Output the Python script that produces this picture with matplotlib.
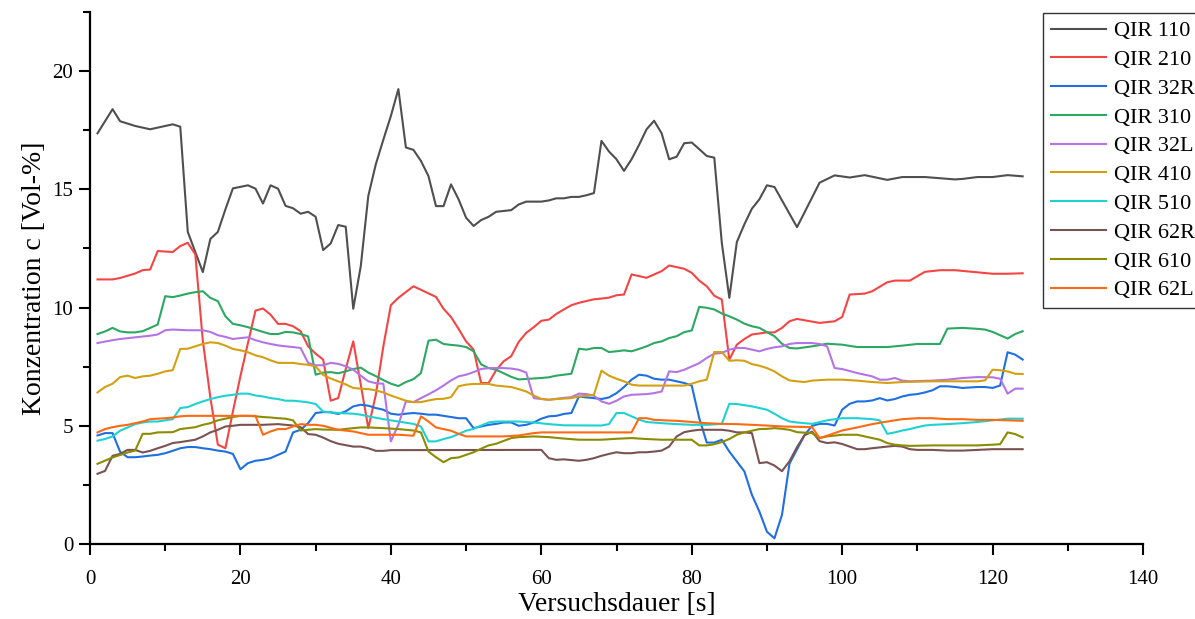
import matplotlib
matplotlib.use("Agg")
import matplotlib.pyplot as plt
from matplotlib.ticker import MultipleLocator

plt.rcParams["font.family"] = ["Liberation Serif", "DejaVu Serif"]

# Measured concentrations [Vol-%] over test duration [s] for each sensor
t_110 = [1, 3, 4, 6, 8, 10, 11, 12, 13, 15, 16, 17, 18, 19, 21, 22, 23, 24, 25, 26,
         27, 28, 29, 30, 31, 32, 33, 34, 35, 36, 37, 38, 39, 40, 41, 42, 43, 44, 45, 46,
         47, 48, 49, 50, 51, 52, 53, 54, 56, 57, 58, 60, 61, 62, 63, 64, 65, 66, 67, 68,
         69, 70, 71, 72, 73, 74, 75, 76, 77, 78, 79, 80, 81, 82, 83, 84, 85, 86, 87, 88,
         89, 90, 91, 94, 97, 99, 101, 103, 106, 108, 111, 113, 115, 116, 118, 120, 122, 124]
c_110 = [17.37, 18.39, 17.88, 17.68, 17.54, 17.68, 17.75, 17.65, 13.2, 11.5, 12.9, 13.2, 14.15, 15.04, 15.17, 15.03, 14.4, 15.17, 15.03, 14.3,
         14.2, 13.97, 14.05, 13.84, 12.43, 12.71, 13.49, 13.42, 9.95, 11.75, 14.72, 16.06, 17.1, 18.1, 19.24, 16.77, 16.67, 16.2, 15.56, 14.29,
         14.29, 15.21, 14.58, 13.8, 13.45, 13.7, 13.84, 14.05, 14.12, 14.36, 14.48, 14.48, 14.53, 14.62, 14.62, 14.68, 14.68, 14.75, 14.84, 17.05,
         16.6, 16.27, 15.78, 16.27, 16.88, 17.54, 17.9, 17.37, 16.27, 16.38, 16.95, 16.98, 16.7, 16.41, 16.34, 12.74, 10.41, 12.77, 13.52, 14.18,
         14.58, 15.17, 15.1, 13.4, 15.28, 15.59, 15.5, 15.6, 15.4, 15.52, 15.52, 15.47, 15.42, 15.44, 15.52, 15.52, 15.6, 15.55]

t_210 = [1, 3, 4, 6, 7, 8, 9, 11, 12, 13, 14, 15, 16, 17, 18, 19, 20, 21, 22, 23,
         24, 25, 26, 27, 28, 29, 30, 31, 32, 33, 34, 35, 36, 37, 38, 39, 40, 41, 43, 44,
         45, 46, 47, 48, 49, 50, 51, 52, 53, 54, 55, 56, 57, 58, 59, 60, 61, 62, 63, 64,
         65, 67, 68, 69, 70, 71, 72, 73, 74, 75, 76, 77, 78, 79, 80, 81, 82, 83, 84, 85,
         86, 87, 88, 90, 91, 92, 93, 94, 97, 99, 100, 101, 103, 104, 106, 107, 109, 111, 113, 115,
         120, 122, 124]
c_210 = [11.19, 11.19, 11.25, 11.44, 11.58, 11.61, 12.39, 12.35, 12.6, 12.74, 12.25, 8.6, 6.2, 4.2, 4.05, 5.6, 7.1, 8.5, 9.87, 9.96,
         9.7, 9.31, 9.31, 9.21, 9.0, 8.36, 8.05, 7.8, 6.06, 6.17, 7.4, 8.57, 6.74, 4.9, 6.31, 8.36, 10.1, 10.41, 10.9, 10.75,
         10.6, 10.45, 9.95, 9.6, 9.1, 8.57, 8.22, 6.81, 6.81, 7.35, 7.73, 7.94, 8.55, 8.93, 9.17, 9.44, 9.49, 9.73, 9.92, 10.1,
         10.2, 10.35, 10.38, 10.42, 10.52, 10.55, 11.4, 11.33, 11.26, 11.4, 11.54, 11.78, 11.71, 11.64, 11.47, 11.14, 10.9, 10.5, 10.34, 7.8,
         8.43, 8.67, 8.86, 8.95, 8.95, 9.14, 9.42, 9.52, 9.35, 9.42, 9.6, 10.55, 10.59, 10.69, 11.07, 11.14, 11.14, 11.51, 11.58, 11.58,
         11.43, 11.43, 11.45]

t_32r = list(range(1, 117)) + [118, 119, 120, 121, 122, 123, 124]
c_32r = [4.59, 4.69, 4.69, 3.9, 3.67, 3.67, 3.7, 3.74, 3.77, 3.84, 3.94, 4.05, 4.1, 4.1, 4.05, 4.01, 3.95, 3.91, 3.81, 3.16,
         3.42, 3.52, 3.56, 3.63, 3.77, 3.91, 4.72, 4.83, 5.11, 5.54, 5.58, 5.57, 5.5, 5.61, 5.82, 5.89, 5.85, 5.75, 5.68, 5.51,
         5.47, 5.51, 5.54, 5.51, 5.47, 5.47, 5.42, 5.37, 5.32, 5.32, 4.9, 4.97, 5.04, 5.08, 5.14, 5.14, 5.0, 5.04, 5.14, 5.3,
         5.4, 5.42, 5.5, 5.54, 6.24, 6.2, 6.17, 6.13, 6.2, 6.38, 6.64, 6.95, 7.16, 7.12, 6.99, 6.95, 6.95, 6.88, 6.81, 6.7,
         5.32, 4.29, 4.29, 4.41, 3.91, 3.49, 3.07, 2.08, 1.37, 0.52, 0.24, 1.23, 3.4, 4.0, 4.6, 5.0, 5.08, 5.08, 5.01, 5.68,
         5.93, 6.03, 6.03, 6.07, 6.17, 6.07, 6.13, 6.24, 6.31, 6.34, 6.41, 6.5, 6.67, 6.67, 6.64, 6.6,
         6.64, 6.64, 6.6, 6.7, 8.11, 8.01, 7.8]

t_310 = list(range(1, 59)) + list(range(60, 95)) + [96, 98, 100, 102, 106, 108, 110, 113, 114, 116, 118, 119, 120, 121, 122, 123, 124]
c_310 = [8.88, 8.99, 9.14, 8.99, 8.95, 8.95, 9.0, 9.14, 9.28, 10.48, 10.44, 10.51, 10.59, 10.65, 10.69, 10.41, 10.27, 9.63, 9.31, 9.25,
         9.17, 9.07, 8.97, 8.88, 8.88, 8.97, 8.95, 8.88, 8.78, 7.16, 7.25, 7.27, 7.22, 7.3, 7.4, 7.46, 7.25, 7.1, 6.93, 6.78,
         6.68, 6.85, 6.97, 7.23, 8.6, 8.64, 8.46, 8.42, 8.39, 8.33, 8.15, 7.6, 7.44, 7.37, 7.22, 7.07, 6.96, 6.98,
         7.02, 7.05, 7.12, 7.16, 7.2, 8.26, 8.22, 8.29, 8.29, 8.12, 8.15, 8.19, 8.15, 8.25, 8.36, 8.5, 8.57, 8.71, 8.79, 8.96,
         9.03, 10.03, 9.99, 9.92, 9.75, 9.63, 9.49, 9.32, 9.21, 9.14, 8.96, 8.79, 8.47, 8.29, 8.27,
         8.36, 8.47, 8.43, 8.33, 8.33, 8.39, 8.46, 8.46, 9.11, 9.14, 9.1, 9.07, 8.97, 8.83, 8.69, 8.88, 9.0]

t_32l = [1, 3, 4, 6, 8, 9, 10, 11, 13, 15, 16, 17, 18, 19, 20, 21, 22, 23, 24, 25,
         26, 27, 28, 29, 30, 31, 32, 33, 34, 35, 36, 37, 38, 39, 40, 41, 42, 43, 44, 45,
         46, 47, 48, 49, 50, 51, 52, 53, 55, 56, 57, 58, 59, 60, 61, 62, 63, 64, 65, 66,
         67, 68, 69, 70, 71, 72, 74, 75, 76, 77, 78, 79, 80, 81, 82, 83, 84, 85, 86, 87,
         88, 89, 90, 91, 92, 93, 94, 96, 97, 98, 99, 100, 102, 103, 104, 105, 106, 107, 108, 109,
         112, 114, 116, 118, 120, 121, 122, 123, 124]
c_32l = [8.5, 8.62, 8.67, 8.74, 8.81, 8.86, 9.04, 9.07, 9.04, 9.04, 8.97, 8.83, 8.76, 8.67, 8.71, 8.74, 8.62, 8.53, 8.46, 8.4,
         8.36, 8.33, 8.29, 7.66, 7.56, 7.56, 7.66, 7.62, 7.52, 7.37, 7.12, 6.88, 6.8, 6.78, 4.34, 5.04, 6.03, 6.0, 6.17, 6.33,
         6.5, 6.7, 6.92, 7.09, 7.16, 7.27, 7.4, 7.44, 7.44, 7.42, 7.37, 7.25, 6.17, 6.13, 6.1, 6.14, 6.18, 6.21, 6.36, 6.34,
         6.27, 6.03, 5.93, 6.06, 6.24, 6.31, 6.34, 6.38, 6.45, 7.3, 7.27, 7.37, 7.51, 7.65, 7.87, 8.05, 8.08, 8.22, 8.29, 8.29,
         8.22, 8.15, 8.25, 8.32, 8.36, 8.46, 8.5, 8.5, 8.46, 8.36, 7.44, 7.4, 7.23, 7.16, 7.09, 6.95, 6.95, 7.02, 6.91, 6.88,
         6.91, 6.95, 7.02, 7.06, 7.05, 6.99, 6.36, 6.57, 6.57]

t_410 = list(range(1, 52)) + list(range(53, 74)) + list(range(79, 96)) + [96, 98, 100, 102, 104, 106, 108, 112, 118, 119, 120, 121, 122, 123, 124]
c_410 = [6.41, 6.64, 6.78, 7.06, 7.12, 7.02, 7.09, 7.12, 7.2, 7.3, 7.35, 8.25, 8.26, 8.36, 8.46, 8.53, 8.5, 8.39, 8.25, 8.19,
         8.11, 7.98, 7.9, 7.77, 7.66, 7.66, 7.66, 7.61, 7.58, 7.51, 7.15, 7.0, 6.88, 6.75, 6.6, 6.57, 6.55, 6.5, 6.41, 6.28,
         6.17, 6.06, 6.0, 6.0, 6.07, 6.13, 6.14, 6.21, 6.67, 6.74, 6.77,
         6.77, 6.7, 6.67, 6.64, 6.55, 6.45, 6.28, 6.14, 6.1, 6.13, 6.15, 6.17, 6.24, 6.27, 6.31, 7.33, 7.12, 6.99, 6.88, 6.74, 6.7,
         6.7, 6.78, 6.88, 6.95, 8.12, 8.12, 7.75, 7.77, 7.75, 7.61, 7.54, 7.44, 7.3, 7.09, 6.92, 6.88, 6.85,
         6.91, 6.95, 6.95, 6.91, 6.85, 6.81, 6.85, 6.88, 6.88, 6.92, 7.37, 7.35, 7.3, 7.2, 7.19]

t_510 = list(range(1, 32)) + [33, 35, 36, 37, 39, 41, 43, 44, 45, 46, 47, 48, 49, 50, 51, 52, 53, 54, 57, 59,
                              61, 63, 68, 69, 70, 71, 72, 73, 74, 76, 78, 80, 82, 84, 85, 86, 88, 89, 90, 91,
                              92, 93, 94, 96, 98, 100, 102, 104, 105, 106, 107, 108, 109, 110, 111, 112, 114, 116, 118, 120,
                              122, 124]
c_510 = [4.37, 4.44, 4.55, 4.79, 4.93, 5.07, 5.14, 5.18, 5.18, 5.23, 5.28, 5.75, 5.79, 5.92, 6.03, 6.13, 6.21, 6.27, 6.31, 6.36,
         6.36, 6.28, 6.24, 6.17, 6.13, 6.06, 6.06, 6.03, 5.99, 5.92, 5.6,
         5.54, 5.51, 5.47, 5.4, 5.28, 5.18, 5.08, 4.97, 4.34, 4.34, 4.44, 4.52, 4.65, 4.79, 4.87, 5.01, 5.14, 5.18, 5.18, 5.14,
         5.07, 5.02, 5.01, 5.07, 5.54, 5.54, 5.4, 5.26, 5.16, 5.11, 5.07, 5.04, 5.04, 5.08, 5.93, 5.92, 5.82, 5.75, 5.68, 5.51,
         5.32, 5.18, 5.14, 5.08, 5.23, 5.32, 5.32, 5.28, 5.23, 4.66, 4.72, 4.8, 4.86, 4.94, 5.01, 5.04, 5.07, 5.11, 5.16, 5.23,
         5.3, 5.3]

t_62r = list(range(1, 21)) + [23, 25, 26, 27, 28, 29, 30, 31, 32, 33, 34, 35, 36, 37, 38, 39, 40, 60, 61, 62,
                              63, 65, 66, 67, 68, 69, 70, 71, 72, 73, 74, 75, 76, 77, 78, 79, 80, 81, 84, 85,
                              86, 87, 88, 89, 90, 91, 92, 93, 94, 95, 96, 97, 98, 99, 100, 101, 102, 103, 104, 106,
                              107, 108, 109, 110, 112, 114, 116, 118, 120, 124]
c_62r = [2.97, 3.09, 3.73, 3.81, 3.98, 3.98, 3.87, 3.94, 4.05, 4.15, 4.27, 4.31, 4.36, 4.41, 4.55, 4.72, 4.83, 4.97, 5.0, 5.04,
         5.04, 5.07, 5.04, 5.01, 4.94, 4.65, 4.62, 4.5, 4.35, 4.24, 4.18, 4.12, 4.12, 4.05, 3.94, 3.94, 3.97, 3.98, 3.63, 3.56,
         3.58, 3.52, 3.56, 3.63, 3.73, 3.81, 3.88, 3.84, 3.84, 3.88, 3.88, 3.91, 3.95, 4.12, 4.55, 4.73, 4.79, 4.83, 4.83, 4.79,
         4.72, 4.72, 4.69, 3.42, 3.46, 3.32, 3.08, 3.5, 4.1, 4.6, 4.75, 4.35, 4.27, 4.3, 4.23, 4.12, 4.01, 4.01, 4.05, 4.12,
         4.15, 4.12, 4.01, 3.98, 3.98, 3.95, 3.95, 3.98, 4.01, 4.01]

t_610 = [1, 3, 5, 6, 7, 8, 9, 11, 12, 13, 14, 15, 16, 17, 18, 19, 20, 21, 22, 23,
         24, 25, 26, 27, 28, 29, 30, 31, 33, 35, 36, 37, 39, 41, 42, 43, 44, 45, 46, 47,
         48, 49, 50, 51, 52, 53, 54, 55, 56, 57, 59, 61, 63, 65, 68, 70, 72, 74, 76, 80,
         81, 82, 83, 84, 85, 86, 87, 88, 89, 90, 91, 92, 93, 94, 96, 97, 98, 100, 102, 103,
         104, 105, 106, 107, 108, 109, 112, 118, 120, 121, 122, 123, 124]
c_610 = [3.39, 3.66, 3.87, 3.95, 4.66, 4.66, 4.72, 4.73, 4.86, 4.9, 4.94, 5.04, 5.11, 5.23, 5.3, 5.37, 5.42, 5.42, 5.4, 5.37,
         5.35, 5.32, 5.3, 5.23, 4.8, 4.83, 4.86, 4.84, 4.83, 4.9, 4.93, 4.93, 4.9, 4.86, 4.83, 4.8, 4.72, 3.91, 3.67, 3.46,
         3.63, 3.66, 3.77, 3.88, 4.03, 4.17, 4.24, 4.36, 4.48, 4.52, 4.55, 4.52, 4.46, 4.41, 4.41, 4.45, 4.48, 4.44, 4.41, 4.41,
         4.17, 4.17, 4.22, 4.31, 4.44, 4.62, 4.72, 4.79, 4.86, 4.87, 4.9, 4.87, 4.83, 4.73, 4.69, 4.48, 4.55, 4.62, 4.62, 4.55,
         4.48, 4.41, 4.27, 4.2, 4.17, 4.15, 4.17, 4.17, 4.2, 4.22, 4.72, 4.65, 4.51]

t_62l = [1, 2, 3, 4, 5, 6, 7, 8, 9, 10, 11, 12, 13, 22, 23, 24, 25, 26, 27, 28,
         29, 30, 31, 33, 35, 36, 37, 41, 43, 44, 45, 46, 47, 48, 49, 50, 55, 57, 59, 60,
         72, 73, 74, 75, 78, 80, 82, 84, 86, 88, 90, 92, 95, 96, 97, 98, 99, 100, 102, 104,
         106, 108, 110, 112, 114, 116, 118, 120, 122, 124]
c_62l = [4.72, 4.86, 4.94, 5.0, 5.04, 5.11, 5.18, 5.28, 5.3, 5.32, 5.35, 5.4, 5.42, 5.42, 4.62, 4.76, 4.86, 4.86, 4.97, 5.07,
         5.04, 5.04, 5.0, 4.83, 4.76, 4.69, 4.62, 4.62, 4.58, 5.4, 5.18, 4.93, 4.86, 4.79, 4.66, 4.55, 4.55, 4.59, 4.69, 4.72,
         4.72, 5.32, 5.32, 5.25, 5.21, 5.16, 5.11, 5.08, 5.07, 5.04, 5.01, 4.97, 4.95, 4.94, 4.48, 4.58, 4.69, 4.8, 4.93, 5.07,
         5.18, 5.28, 5.32, 5.32, 5.28, 5.28, 5.25, 5.25, 5.23, 5.21]

labels = ["QIR 110", "QIR 210", "QIR 32R", "QIR 310", "QIR 32L",
          "QIR 410", "QIR 510", "QIR 62R", "QIR 610", "QIR 62L"]
times = [t_110, t_210, t_32r, t_310, t_32l, t_410, t_510, t_62r, t_610, t_62l]
values = [c_110, c_210, c_32r, c_310, c_32l, c_410, c_510, c_62r, c_610, c_62l]
colors = ["#4f4f4f", "#f44545", "#1f6fe0", "#2ca862", "#b574e6",
          "#d4a012", "#1ed2d2", "#7b5252", "#8c8c00", "#ff6a12"]

fig = plt.figure(figsize=(11.95, 6.19), dpi=100)
ax = fig.add_axes([90 / 1195, 1 - 544 / 619, (1143 - 90) / 1195, (544 - 12) / 619])

for t, v, lab, col in zip(times, values, labels, colors):
    assert len(t) == len(v), lab
    ax.plot(t, v, color=col, lw=1.5, label=lab)

ax.set_xlim(0, 140)
ax.set_ylim(0, 22.5)
ax.xaxis.set_major_locator(MultipleLocator(20))
ax.xaxis.set_minor_locator(MultipleLocator(10))
ax.yaxis.set_major_locator(MultipleLocator(5))
ax.yaxis.set_minor_locator(MultipleLocator(2.5))

for side in ("top", "right"):
    ax.spines[side].set_visible(False)
for side in ("left", "bottom"):
    ax.spines[side].set_linewidth(1.6)

ax.tick_params(which="major", direction="out", length=8, width=1.5, labelsize=15)
ax.tick_params(which="minor", direction="out", length=5, width=1.5)
ax.tick_params(axis="x", pad=11)
ax.tick_params(axis="y", pad=4)

ax.set_xlabel("Versuchsdauer [s]", fontsize=20, labelpad=2)
ax.set_ylabel("Konzentration c [Vol-%]", fontsize=20, labelpad=4)

leg = fig.legend(loc="upper left", bbox_to_anchor=(1043 / 1195, 1 - 13 / 619),
                 fontsize=16, frameon=True, fancybox=False, edgecolor="black",
                 handlelength=2.5, handletextpad=0.35, labelspacing=0.37,
                 borderpad=0.35, borderaxespad=0)
leg.get_frame().set_linewidth(1.0)

fig.savefig("out.png", dpi=100)
